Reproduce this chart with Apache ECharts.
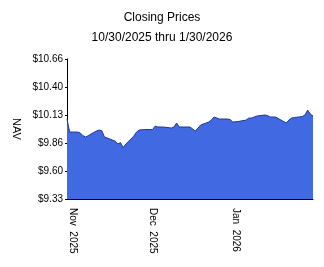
<!DOCTYPE html>
<html>
<head>
<meta charset="utf-8">
<script src="https://cdn.jsdelivr.net/npm/echarts@6/dist/echarts.min.js"></script>
<style>
html,body{margin:0;padding:0;background:#fff;}
#chart{width:324px;height:267px;}
</style>
</head>
<body>
<div id="chart"></div>
<script>
const titleText = 'Closing Prices';
const subtitleText = '10/30/2025 thru 1/30/2026';
const dates = ['2025-10-30','2025-10-31','2025-11-03','2025-11-04','2025-11-05','2025-11-06','2025-11-07',
 '2025-11-10','2025-11-11','2025-11-12','2025-11-13','2025-11-14','2025-11-17','2025-11-18','2025-11-19',
 '2025-11-20','2025-11-21','2025-11-24','2025-11-25','2025-11-26','2025-11-28','2025-12-01','2025-12-02',
 '2025-12-03','2025-12-04','2025-12-05','2025-12-08','2025-12-09','2025-12-10','2025-12-11','2025-12-12',
 '2025-12-15','2025-12-16','2025-12-17','2025-12-18','2025-12-19','2025-12-22','2025-12-23','2025-12-24',
 '2025-12-26','2025-12-29','2025-12-30','2025-12-31','2026-01-02','2026-01-05','2026-01-06','2026-01-07',
 '2026-01-08','2026-01-09','2026-01-12','2026-01-13','2026-01-14','2026-01-15','2026-01-16','2026-01-20',
 '2026-01-21','2026-01-22','2026-01-23','2026-01-26','2026-01-27','2026-01-28','2026-01-29','2026-01-30'];
const nav = [10.09,9.966,9.966,9.957,9.93,9.919,9.933,
 9.976,9.985,9.98,9.919,9.91,9.88,9.852,9.866,
 9.819,9.852,9.928,9.966,9.985,9.99,9.99,10.023,
 10.014,10.014,10.014,10.004,10.014,10.052,10.014,10.014,
 10.014,9.995,9.976,10.004,10.033,10.061,10.08,10.109,
 10.09,10.09,10.085,10.061,10.066,10.08,10.099,10.099,
 10.109,10.118,10.128,10.123,10.109,10.109,10.109,10.052,
 10.08,10.099,10.104,10.113,10.128,10.175,10.137,10.118];
const yTickLabels = ['$9.33','$9.60','$9.86','$10.13','$10.40','$10.66'];
const xTickDates = ['2025-11-01','2025-12-01','2026-01-01'];
const xTickLabels = ['Nov  2025','Dec  2025','Jan  2026'];
const yMin = 9.33, yMax = 10.66;

function ts(s){ const p = s.split('-'); return Date.UTC(+p[0], +p[1]-1, +p[2]); }
const yInterval = (yMax - yMin) / (yTickLabels.length - 1);
const xTickTs = xTickDates.map(ts);

const chart = echarts.init(document.getElementById('chart'));
chart.setOption({
  animation: false,
  backgroundColor: '#fff',
  textStyle: { fontFamily: 'Liberation Sans, Arial, sans-serif' },
  title: [
    { text: titleText, left: 'center', top: 7, textStyle: { fontSize: 12, fontWeight: 'normal', color: '#000', fontFamily: 'Liberation Sans' } },
    { text: subtitleText, left: 'center', top: 27, textStyle: { fontSize: 12, fontWeight: 'normal', color: '#000', fontFamily: 'Liberation Sans' } }
  ],
  grid: { left: 67, right: 11, top: 59, bottom: 68, containLabel: false },
  xAxis: {
    type: 'value',
    min: ts(dates[0]),
    max: ts(dates[dates.length - 1]),
    splitLine: { show: false },
    axisLine: { lineStyle: { color: '#000', width: 1 } },
    axisTick: { show: false },
    axisLabel: {
      customValues: xTickTs,
      rotate: -90,
      margin: 9,
      fontSize: 10,
      color: '#000',
      fontFamily: 'Liberation Sans',
      formatter: function (v) {
        let best = 0, bd = Infinity;
        xTickTs.forEach((t, i) => { const d = Math.abs(t - v); if (d < bd) { bd = d; best = i; } });
        return xTickLabels[best];
      }
    }
  },
  yAxis: {
    type: 'value',
    min: yMin,
    max: yMax,
    interval: yInterval,
    name: 'NAV',
    nameLocation: 'middle',
    nameRotate: -90,
    nameGap: 41,
    nameTextStyle: { fontSize: 11, color: '#000', fontFamily: 'Liberation Sans' },
    splitLine: { show: false },
    axisLine: { show: true, lineStyle: { color: '#000', width: 1 } },
    axisTick: { show: true, length: 2, lineStyle: { color: '#000' } },
    axisLabel: {
      fontSize: 10,
      color: '#000',
      margin: 4,
      fontFamily: 'Liberation Sans',
      formatter: function (v) {
        const i = Math.round((v - yMin) / yInterval);
        return yTickLabels[i] || '';
      }
    }
  },
  series: [{
    type: 'line',
    data: dates.map((d, i) => [ts(d), nav[i]]),
    showSymbol: false,
    symbol: 'none',
    lineStyle: { color: '#1c3aa0', width: 1 },
    areaStyle: { color: '#4169E1', opacity: 1 },
    z: 1
  }]
});
</script>
</body>
</html>
